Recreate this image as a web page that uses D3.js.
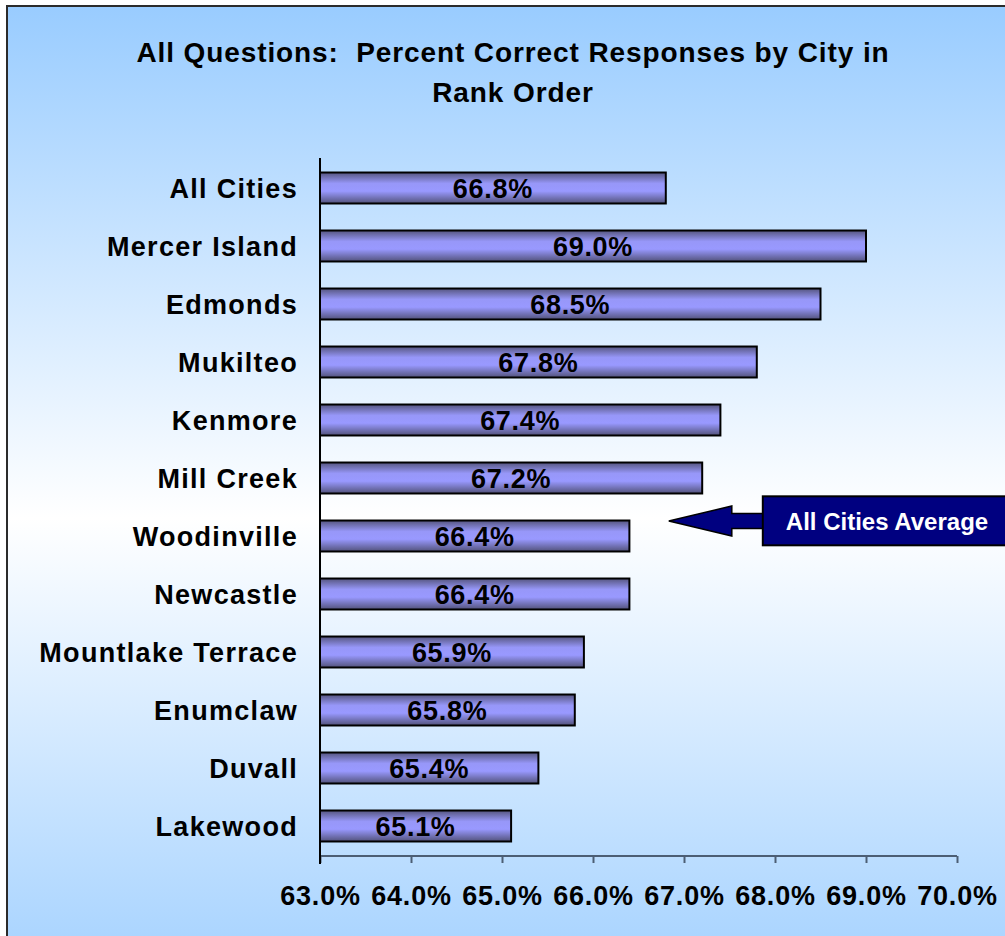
<!DOCTYPE html>
<html><head><meta charset="utf-8">
<script src="https://cdn.jsdelivr.net/npm/d3@7"></script>
<style>
body{margin:0;background:#fff;overflow:hidden;}
svg{display:block;}
text{font-family:"Liberation Sans",Arial,sans-serif;font-weight:bold;}
</style>
</head><body>
<svg id="chart" width="1005" height="936"></svg>
<script>
// ---- data ----
const cities = ["All Cities","Mercer Island","Edmonds","Mukilteo","Kenmore","Mill Creek","Woodinville","Newcastle","Mountlake Terrace","Enumclaw","Duvall","Lakewood"];
const values = [66.8, 69.0, 68.5, 67.8, 67.4, 67.2, 66.4, 66.4, 65.9, 65.8, 65.4, 65.1];
const tickValues = [63, 64, 65, 66, 67, 68, 69, 70];
const tickLabels = ["63.0%","64.0%","65.0%","66.0%","67.0%","68.0%","69.0%","70.0%"];
const titleLines = ["All Questions:  Percent Correct Responses by City in", "Rank Order"];
const calloutText = "All Cities Average";
const averageValue = 66.8;
const calloutRow = "Woodinville";

const svg = d3.select("#chart");
const defs = svg.append("defs");

const bg = defs.append("linearGradient").attr("id","bgGrad").attr("x1",0).attr("y1",0).attr("x2",0).attr("y2",1);
bg.append("stop").attr("offset","0%").attr("stop-color","#99ccff");
bg.append("stop").attr("offset","50%").attr("stop-color","#ffffff");
bg.append("stop").attr("offset","100%").attr("stop-color","#99ccff");

const bar = defs.append("linearGradient").attr("id","barGrad").attr("x1",0).attr("y1",0).attr("x2",0).attr("y2",1);
bar.append("stop").attr("offset","0%").attr("stop-color","#55557f");
bar.append("stop").attr("offset","35%").attr("stop-color","#9797f8");
bar.append("stop").attr("offset","60%").attr("stop-color","#9999ff");
bar.append("stop").attr("offset","100%").attr("stop-color","#52527a");

// background + frame
svg.append("rect").attr("x",7).attr("y",6).attr("width",1040).attr("height",1024)
  .attr("fill","url(#bgGrad)").attr("stroke","#2b2b2b").attr("stroke-width",2);

// title
svg.append("text").attr("x",513).attr("text-anchor","middle").attr("font-size",28)
  .attr("letter-spacing","0.9px").style("white-space","pre")
  .selectAll("tspan").data(titleLines).join("tspan")
  .attr("x",513).attr("y",(d,i)=>62+i*40).text(d=>d);

// scales
const x = d3.scaleLinear().domain([63,70]).range([320,957]);
const y = d3.scaleBand().domain(cities).range([159,855]).paddingInner(0.466).paddingOuter(0.233);

// bars
const g = svg.append("g");
g.selectAll("rect.bar").data(cities).join("rect").attr("class","bar")
  .attr("x",x(63)).attr("y",d=>y(d))
  .attr("width",(d,i)=>x(values[i])-x(63)).attr("height",y.bandwidth())
  .attr("fill","url(#barGrad)").attr("stroke","#000").attr("stroke-width",2);

// value labels
g.selectAll("text.val").data(cities).join("text").attr("class","val")
  .attr("x",(d,i)=>(x(63)+x(values[i]))/2).attr("y",d=>y(d)+y.bandwidth()/2+9.5)
  .attr("text-anchor","middle").attr("font-size",27).attr("letter-spacing","0.7px").attr("fill","#000")
  .text((d,i)=>values[i].toFixed(1)+"%");

// category labels
g.selectAll("text.cat").data(cities).join("text").attr("class","cat")
  .attr("x",298).attr("y",d=>y(d)+y.bandwidth()/2+9.7)
  .attr("text-anchor","end").attr("font-size",27).attr("letter-spacing","1.3px").attr("fill","#000")
  .text(d=>d);

// x axis
const xAxis = d3.axisBottom(x).tickValues(tickValues).tickSize(7).tickFormat((d,i)=>tickLabels[i]);
const ax = svg.append("g").attr("transform","translate(0,856)").call(xAxis);
ax.select(".domain").attr("stroke","#4c5e74").attr("stroke-width",2).attr("d","M320,0H957");
ax.selectAll(".tick line").attr("stroke","#4c5e74").attr("stroke-width",2);
ax.selectAll(".tick text").attr("font-size",27).attr("font-family","'Liberation Sans',Arial,sans-serif")
  .attr("font-weight","bold").attr("letter-spacing","0.8px").attr("fill","#000").attr("y",49).attr("dy",0);

// y axis line
svg.append("line").attr("x1",x(63)).attr("x2",x(63)).attr("y1",158).attr("y2",864)
  .attr("stroke","#000").attr("stroke-width",2);

// callout arrow + box
const tipX = x(averageValue)+3, tipY = y(calloutRow)+0.5;
const arrow = d3.path();
arrow.moveTo(tipX, tipY);
arrow.lineTo(tipX+63, tipY-15);
arrow.lineTo(tipX+63, tipY-7.5);
arrow.lineTo(tipX+95, tipY-7.5);
arrow.lineTo(tipX+95, tipY+7.5);
arrow.lineTo(tipX+63, tipY+7.5);
arrow.lineTo(tipX+63, tipY+15);
arrow.closePath();
svg.append("path").attr("d",arrow.toString()).attr("fill","#000080").attr("stroke","#000").attr("stroke-width",1.5);
svg.append("rect").attr("x",tipX+94).attr("y",tipY-24.7).attr("width",260).attr("height",49)
  .attr("fill","#000080").attr("stroke","#000").attr("stroke-width",2);
svg.append("text").attr("x",887).attr("y",tipY+8.5).attr("text-anchor","middle").attr("font-size",24)
  .attr("fill","#fff").text(calloutText);
</script>
</body></html>
